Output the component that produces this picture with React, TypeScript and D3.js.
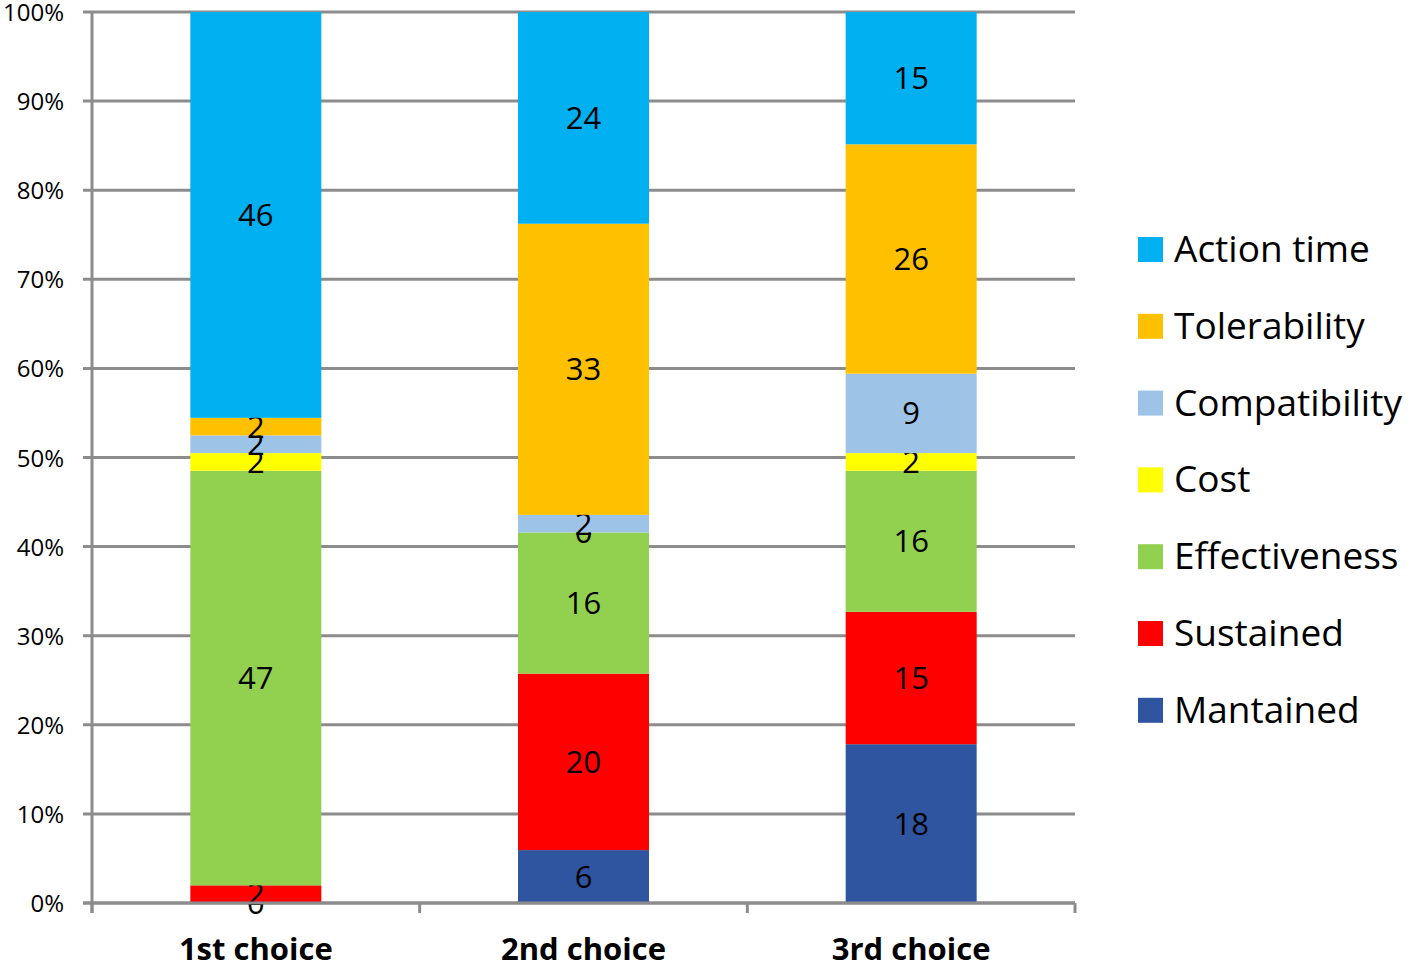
import React, { useEffect, useRef } from 'react';
import * as d3 from 'd3';

const categories = ['1st choice', '2nd choice', '3rd choice'];
const seriesNames = ['Mantained', 'Sustained', 'Effectiveness', 'Cost', 'Compatibility', 'Tolerability', 'Action time'];
const mantained = [0, 6, 18];
const sustained = [2, 20, 15];
const effectiveness = [47, 16, 16];
const cost = [2, 0, 2];
const compatibility = [2, 2, 9];
const tolerability = [2, 33, 26];
const actionTime = [46, 24, 15];
const colors = ['#2F55A0', '#FF0000', '#92D050', '#FFFF00', '#9DC3E6', '#FFC000', '#00B0F0'];
const yTicks = [0, 0.1, 0.2, 0.3, 0.4, 0.5, 0.6, 0.7, 0.8, 0.9, 1];

const App = () => {
  const svgRef = useRef<SVGSVGElement>(null);

  useEffect(() => {
    if (!svgRef.current) return;
    const svg = d3.select(svgRef.current);
    svg.selectAll('*').remove();

    const font = 'Open Sans, Lato, sans-serif';
    const grid = '#8C8C8C';
    const allSeries = [mantained, sustained, effectiveness, cost, compatibility, tolerability, actionTime];

    const rows = categories.map((c, i) => {
      const r: any = { cat: c };
      seriesNames.forEach((s, j) => (r[s] = allSeries[j][i]));
      return r;
    });

    const stack = d3.stack<any>().keys(seriesNames).offset(d3.stackOffsetExpand)(rows);

    const left = 92, right = 1075, top = 12, bottom = 903;
    const x = d3.scaleBand().domain(categories).range([left, right]).paddingInner(0).paddingOuter(0);
    const y = d3.scaleLinear().domain([0, 1]).range([bottom, top]);
    const barW = 131;

    // gridlines
    svg.append('g')
      .selectAll('line')
      .data(yTicks)
      .enter()
      .append('line')
      .attr('x1', left - 9)
      .attr('x2', right)
      .attr('y1', (d) => y(d))
      .attr('y2', (d) => y(d))
      .attr('stroke', grid)
      .attr('stroke-width', 3);

    // y tick labels
    svg.append('g')
      .selectAll('text')
      .data(yTicks)
      .enter()
      .append('text')
      .attr('x', 64)
      .attr('y', (d) => y(d) + 9)
      .attr('text-anchor', 'end')
      .style('font-family', font)
      .style('font-size', '24px')
      .text((d) => d3.format('.0%')(d));

    // bars
    const layers = svg.append('g')
      .selectAll('g')
      .data(stack)
      .enter()
      .append('g')
      .attr('fill', (d, i) => colors[i]);

    layers.selectAll('rect')
      .data((d) => d)
      .enter()
      .append('rect')
      .attr('x', (d: any) => x(d.data.cat)! + x.bandwidth() / 2 - barW / 2)
      .attr('y', (d) => y(d[1]))
      .attr('width', barW)
      .attr('height', (d) => y(d[0]) - y(d[1]));

    // axes lines
    svg.append('line')
      .attr('x1', left).attr('x2', left)
      .attr('y1', top).attr('y2', bottom + 10)
      .attr('stroke', grid).attr('stroke-width', 3);
    svg.append('line')
      .attr('x1', left - 9).attr('x2', right)
      .attr('y1', bottom).attr('y2', bottom)
      .attr('stroke', grid).attr('stroke-width', 3);
    const xTickPos = categories.map((c) => x(c)!).concat([right]);
    svg.append('g')
      .selectAll('line')
      .data(xTickPos)
      .enter()
      .append('line')
      .attr('x1', (d) => d).attr('x2', (d) => d)
      .attr('y1', bottom).attr('y2', bottom + 10)
      .attr('stroke', grid).attr('stroke-width', 3);

    // data labels
    layers.selectAll('text')
      .data((d) => d.map((v) => ({ v, key: d.key })))
      .enter()
      .append('text')
      .attr('x', (d: any) => x(d.v.data.cat)! + x.bandwidth() / 2)
      .attr('y', (d: any) => (y(d.v[0]) + y(d.v[1])) / 2 + 11)
      .attr('text-anchor', 'middle')
      .attr('fill', '#000')
      .style('font-family', font)
      .style('font-size', '31px')
      .text((d: any) => d.v.data[d.key]);

    // category labels
    svg.append('g')
      .selectAll('text')
      .data(categories)
      .enter()
      .append('text')
      .attr('x', (d) => x(d)! + x.bandwidth() / 2)
      .attr('y', 960)
      .attr('text-anchor', 'middle')
      .style('font-family', font)
      .style('font-size', '31px')
      .style('font-weight', 'bold')
      .text((d) => d);

    // legend
    const legendOrder = seriesNames.map((s, i) => ({ s, c: colors[i] })).reverse();
    const lg = svg.append('g')
      .selectAll('g')
      .data(legendOrder)
      .enter()
      .append('g')
      .attr('transform', (d, i) => `translate(1138, ${249 + i * 76.8})`);
    lg.append('rect')
      .attr('x', 0).attr('y', -12)
      .attr('width', 25).attr('height', 25)
      .attr('fill', (d) => d.c);
    lg.append('text')
      .attr('x', 36)
      .attr('y', 13)
      .style('font-family', font)
      .style('font-size', '37px')
      .text((d) => d.s);
  }, []);

  return (
    <div style={{ position: 'absolute', left: 0, top: 0 }}>
      <svg ref={svgRef} width={1418} height={964} style={{ display: 'block', background: '#fff' }}></svg>
    </div>
  );
};

export default App;
